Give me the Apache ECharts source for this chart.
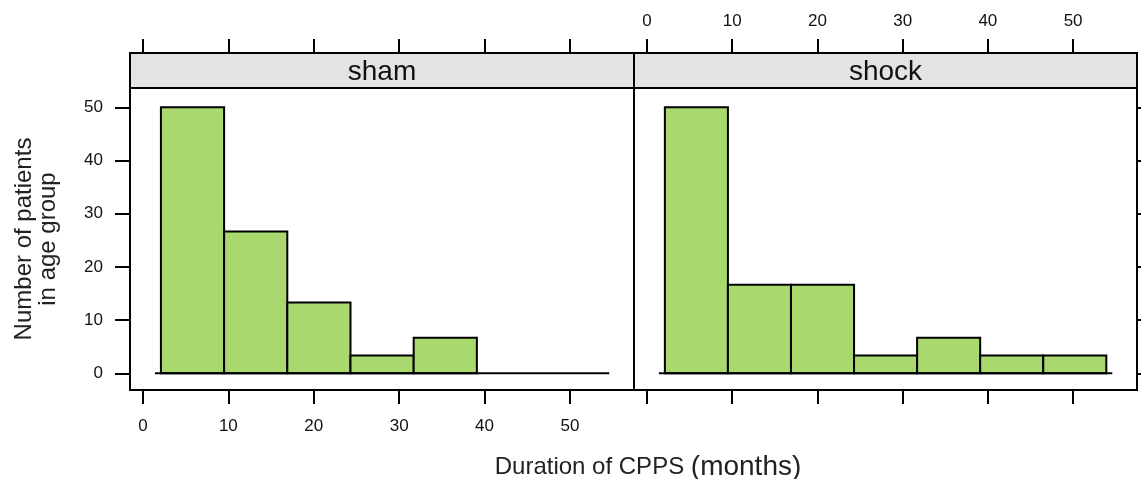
<!DOCTYPE html>
<html>
<head>
<meta charset="utf-8">
<script src="https://cdn.jsdelivr.net/npm/echarts@6/dist/echarts.min.js"></script>
<style>
  html, body { margin: 0; padding: 0; background: #fff; }
  #chart { width: 1141px; height: 479px; }
</style>
</head>
<body>
<div id="chart"></div>
<script>
// histogram bin edges (months) shared by both panels
var breaks = [2.1, 9.5, 16.9, 24.3, 31.7, 39.1, 46.5, 53.9]
// percent of patients per bin
var shamPct = [50, 26.67, 13.33, 3.33, 6.67, 0, 0]
var shockPct = [50, 16.67, 16.67, 3.33, 6.67, 3.33, 3.33]
var panelNames = ['sham', 'shock']
var xTicks = [0, 10, 20, 30, 40, 50]
var yTicks = [0, 10, 20, 30, 40, 50]
var baseline = [1.4, 54.6]

var FONT = 'Liberation Sans, Arial, sans-serif'
var BAR = '#a9d86e'

function binRows(pct) {
  var rows = []
  for (var i = 0; i < pct.length; i++) {
    if (pct[i] > 0) rows.push([breaks[i], breaks[i + 1], pct[i]])
  }
  return rows
}

function renderBar(params, api) {
  var p0 = api.coord([api.value(0), api.value(2)])
  var p1 = api.coord([api.value(1), 0])
  return {
    type: 'rect',
    shape: { x: p0[0], y: p0[1], width: p1[0] - p0[0], height: p1[1] - p0[1] },
    style: { fill: BAR, stroke: '#000', lineWidth: 2 }
  }
}

function xAxis(grid, pos, labels, margin) {
  return {
    type: 'value', gridIndex: grid, position: pos,
    min: -1.52, max: 57.5,
    axisLine: { show: false, onZero: false },
    axisTick: { show: true, inside: false, length: 14, customValues: xTicks, lineStyle: { color: '#000', width: 2 } },
    axisLabel: { show: labels, customValues: xTicks, margin: margin, color: '#111', fontSize: 17, fontFamily: FONT },
    splitLine: { show: false }
  }
}

function yAxis(grid, pos, labels) {
  return {
    type: 'value', gridIndex: grid, position: pos,
    min: -3.14, max: 53.64,
    axisLine: { show: false, onZero: false },
    axisTick: { show: true, inside: false, length: 15, customValues: yTicks, lineStyle: { color: '#000', width: 2 } },
    axisLabel: { show: labels, customValues: yTicks, margin: 27, color: '#111', fontSize: 17, fontFamily: FONT },
    splitLine: { show: false }
  }
}

var stripY = {
  type: 'value', min: 0, max: 1, show: false
}

var chart = echarts.init(document.getElementById('chart'))
chart.setOption({
  animation: false,
  backgroundColor: '#fff',
  grid: [
    { left: 130, top: 88, width: 504, height: 302, show: true, backgroundColor: '#fff', borderColor: '#000', borderWidth: 2 },
    { left: 634, top: 88, width: 503, height: 302, show: true, backgroundColor: '#fff', borderColor: '#000', borderWidth: 2 },
    { left: 130, top: 53, width: 504, height: 35, show: true, backgroundColor: '#e3e3e3', borderColor: '#000', borderWidth: 2 },
    { left: 634, top: 53, width: 503, height: 35, show: true, backgroundColor: '#e3e3e3', borderColor: '#000', borderWidth: 2 }
  ],
  xAxis: [
    xAxis(0, 'bottom', true, 28),
    xAxis(1, 'bottom', false, 28),
    xAxis(2, 'top', false, 23),
    xAxis(3, 'top', true, 23)
  ],
  yAxis: [
    yAxis(0, 'left', true),
    yAxis(1, 'right', false),
    Object.assign({ gridIndex: 2 }, stripY),
    Object.assign({ gridIndex: 3 }, stripY)
  ],
  series: [
    { type: 'custom', name: panelNames[0], xAxisIndex: 0, yAxisIndex: 0, renderItem: renderBar, encode: { x: [0, 1], y: 2 }, data: binRows(shamPct) },
    { type: 'custom', name: panelNames[1], xAxisIndex: 1, yAxisIndex: 1, renderItem: renderBar, encode: { x: [0, 1], y: 2 }, data: binRows(shockPct) },
    { type: 'line', xAxisIndex: 0, yAxisIndex: 0, symbol: 'none', z: 5, lineStyle: { color: '#000', width: 2 }, data: [[baseline[0], 0], [baseline[1], 0]] },
    { type: 'line', xAxisIndex: 1, yAxisIndex: 1, symbol: 'none', z: 5, lineStyle: { color: '#000', width: 2 }, data: [[baseline[0], 0], [baseline[1], 0]] }
  ],
  graphic: [
    { type: 'text', x: 382, y: 72, z: 10, style: { text: panelNames[0], fill: '#111', font: '28px ' + FONT, align: 'center', verticalAlign: 'middle' } },
    { type: 'text', x: 885.5, y: 72, z: 10, style: { text: panelNames[1], fill: '#111', font: '28px ' + FONT, align: 'center', verticalAlign: 'middle' } },
    {
      type: 'text', x: 36, y: 239, rotation: Math.PI / 2,
      style: { text: 'Number of patients\nin age group', fill: '#222', font: '24px ' + FONT, lineHeight: 24, align: 'center', verticalAlign: 'middle' }
    },
    {
      type: 'text', x: 648, y: 467,
      style: {
        text: '{a|Duration of CPPS }{b|(months)}', align: 'center', verticalAlign: 'middle', fill: '#222',
        rich: {
          a: { fontSize: 24, fontFamily: FONT, fill: '#222' },
          b: { fontSize: 28, fontFamily: FONT, fill: '#222' }
        }
      }
    }
  ]
})
</script>
</body>
</html>
